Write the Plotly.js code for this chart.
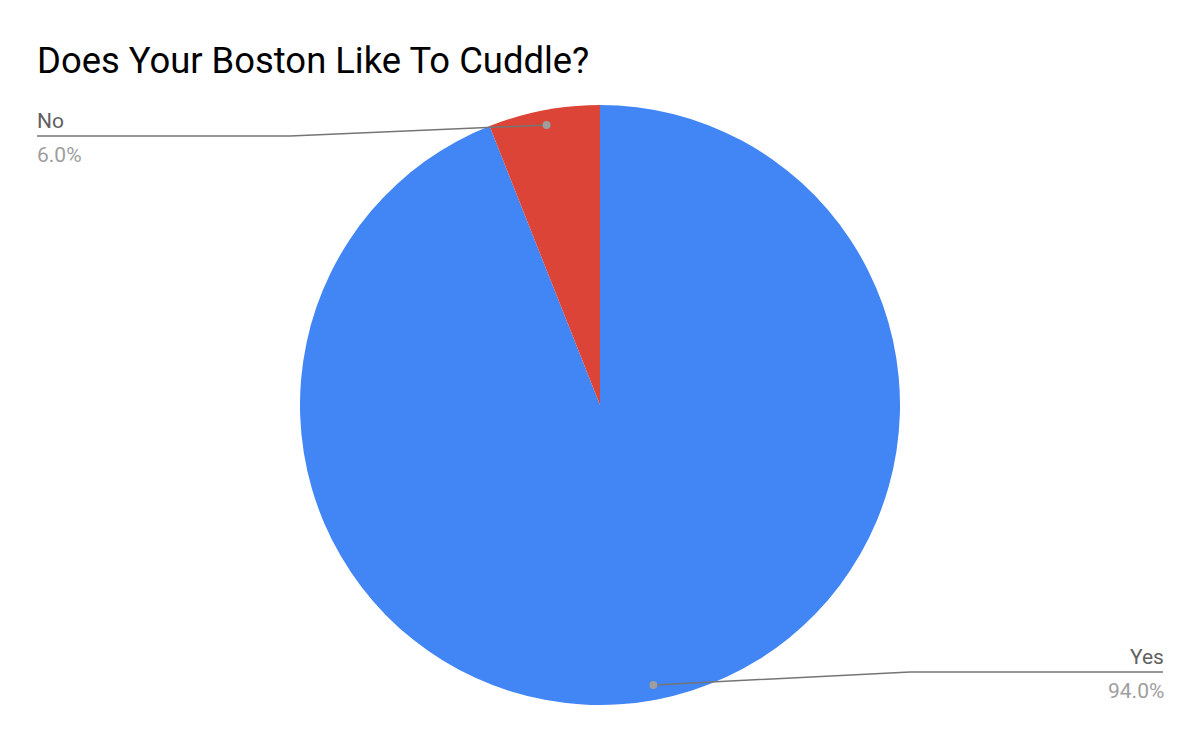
<!DOCTYPE html>
<html>
<head>
<meta charset="utf-8">
<script src="https://cdn.plot.ly/plotly-3.0.1.min.js"></script>
<style>html,body{margin:0;padding:0;background:#fff;}#chart{width:1200px;height:742px;}</style>
</head>
<body>
<div id="chart"></div>
<script>
const categories = ["Yes", "No"];
const values = [94, 6];
const sliceColors = ["#4285F4", "#DB4437"];

const W = 1200, H = 742;
const M = {l: 0, r: 0, t: 105, b: 37};
const PW = W - M.l - M.r, PH = H - M.t - M.b;
const R = Math.min(PW, PH) / 2;
const CX = M.l + PW / 2, CY = M.t + PH / 2;
const px = x => (x - M.l) / PW;
const py = y => 1 - (y - M.t) / PH;

const total = values.reduce((a, b) => a + b, 0);
let cum = 0;
const mids = values.map(v => { const m = (cum + v / 2) / total * 2 * Math.PI; cum += v; return m; });
const dots = mids.map(a => ({x: CX + 0.95 * R * Math.sin(a), y: CY - 0.95 * R * Math.cos(a)}));
const pct = values.map(v => (v / total * 100).toFixed(1) + "%");

// label layout: index 1 (No) on the left, index 0 (Yes) on the right
const labelLayout = [
  {side: "right", xText: 1163, lineY: 672, kneeX: 910},
  {side: "left", xText: 37, lineY: 136, kneeX: 290}
];

const shapes = [];
const annotations = [];
categories.forEach((c, i) => {
  const L = labelLayout[i];
  const d = dots[i];
  shapes.push({type: "path", xref: "paper", yref: "paper",
    path: `M ${px(d.x)} ${py(d.y)} L ${px(L.kneeX)} ${py(L.lineY)} L ${px(L.xText)} ${py(L.lineY)}`,
    line: {color: "#757575", width: 1.5}});
  shapes.push({type: "circle", xref: "paper", yref: "paper",
    x0: px(d.x - 4), x1: px(d.x + 4), y0: py(d.y + 4), y1: py(d.y - 4),
    fillcolor: "#9E9E9E", line: {width: 0}});
  const anchor = L.side === "left" ? "left" : "right";
  const shift = L.side === "left" ? -2 : 3;
  annotations.push({xref: "paper", yref: "paper", x: px(L.xText), y: py(L.lineY - 15),
    xanchor: anchor, yanchor: "middle", xshift: shift, showarrow: false, text: c,
    font: {family: "Roboto", size: 21, color: "#616161"}});
  annotations.push({xref: "paper", yref: "paper", x: px(L.xText), y: py(L.lineY + 19),
    xanchor: anchor, yanchor: "middle", xshift: shift, showarrow: false, text: pct[i],
    font: {family: "Roboto", size: 21, color: "#9E9E9E"}});
});

const data = [{
  type: "pie",
  labels: categories,
  values: values,
  sort: false,
  direction: "clockwise",
  rotation: 0,
  textinfo: "none",
  hoverinfo: "label+percent",
  marker: {colors: sliceColors, line: {width: 0}},
  showlegend: false
}];

const layout = {
  width: W, height: H,
  margin: M,
  paper_bgcolor: "#ffffff",
  title: {text: "Does Your Boston Like To Cuddle?", x: 37 / W, xanchor: "left",
    xref: "container", yref: "container", y: 1 - 60 / H, yanchor: "middle",
    font: {family: "Roboto", size: 36.4, color: "#000000"}},
  shapes: shapes,
  annotations: annotations,
  showlegend: false
};

Plotly.newPlot("chart", data, layout, {displayModeBar: false, staticPlot: true});
</script>
</body>
</html>
